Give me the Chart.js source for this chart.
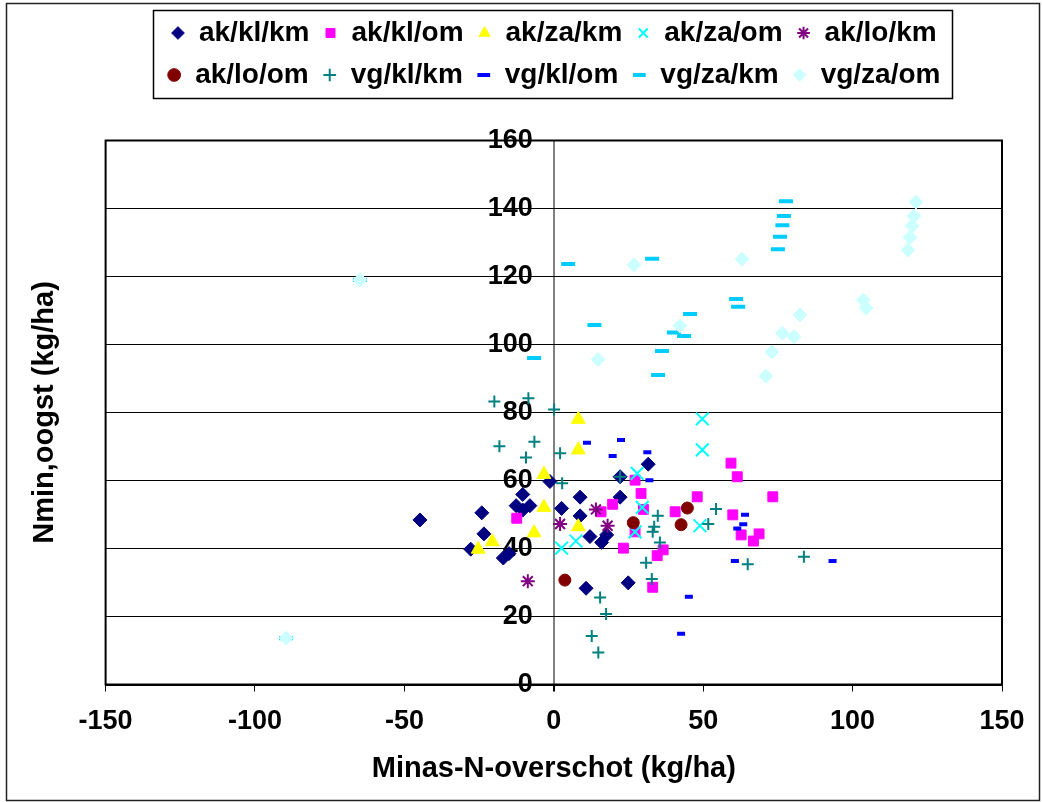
<!DOCTYPE html>
<html>
<head>
<meta charset="utf-8">
<script src="https://cdn.jsdelivr.net/npm/chart.js@4.4.0/dist/chart.umd.min.js"></script>
<style>
  html, body { margin: 0; padding: 0; background: #fff; }
  #wrap { position: relative; width: 1042px; height: 802px; }
</style>
</head>
<body>
<div id="wrap"><canvas id="chart" width="1042" height="802"></canvas></div>
<script>
// series names (legend order)
const seriesNames = ['ak/kl/km', 'ak/kl/om', 'ak/za/km', 'ak/za/om', 'ak/lo/km',
                     'ak/lo/om', 'vg/kl/km', 'vg/kl/om', 'vg/za/km', 'vg/za/om'];

// [Minas-N-overschot, Nmin oogst] per series
const akKlKm = [[-44.8, 48.4], [-27.8, 39.8], [-24.1, 50.5], [-23.4, 44.3], [-16.9, 37.2], [-15, 38.5],
  [-12.6, 52.6], [-10.4, 55.9], [-10.4, 51.3], [-8, 52.6], [-1.3, 59.7], [2.6, 51.8], [8.8, 55.1],
  [8.8, 49.6], [12.1, 43.5], [16, 41.8], [17.7, 44], [22.2, 55.1], [22.2, 61.1], [31.6, 64.8],
  [10.8, 28.3], [24.9, 29.9]];
const akKlOm = [[-12.4, 48.9], [27.2, 60.1], [29.2, 56.2], [19.7, 53], [15.8, 50.8], [30, 51.5],
  [27.2, 44.9], [23.3, 40.1], [48, 55.2], [40.6, 50.8], [59.3, 65.1], [61.4, 61.1], [59.9, 49.9],
  [62.7, 44], [68.7, 44.3], [66.8, 42.2], [73.3, 55.2], [36.6, 39.6], [34.6, 37.9], [33.1, 28.6]];
const akZaKm = [[8.2, 78], [8.2, 69], [-3.3, 61.8], [-3.3, 52.1], [-6.6, 44.6], [-20.6, 42],
  [-25.3, 39.8], [8.2, 46.4]];
const akZaOm = [[49.7, 78.1], [49.7, 69], [27.9, 62.1], [29.6, 52.1], [27.2, 44.9], [48.9, 46.7],
  [7.4, 42.2], [2.6, 40.1]];
const akLoKm = [[14.1, 51.5], [2.1, 47.2], [18, 46.7], [-8.7, 30.4]];
const akLoOm = [[44.7, 51.9], [42.6, 47], [26.6, 47.6], [3.7, 30.7]];
const vgKlKm = [[-19.9, 83.2], [-8.5, 84.2], [0.1, 80.9], [-18.2, 70.1], [-6.5, 71.4], [-9.3, 66.8],
  [2.1, 68], [2.8, 59.2], [22.2, 61.1], [54.3, 51.6], [34.8, 49.6], [33.6, 46.4], [33.1, 44.9],
  [51.7, 47.2], [35.5, 41.8], [30.9, 35.8], [32.8, 31], [15.5, 25.6], [17.5, 20.7], [12.7, 14.3],
  [14.9, 9.4], [64.9, 35.4], [83.7, 37.6]];
const vgKlOm = [[11.1, 71.1], [22.5, 71.9], [19.7, 67.2], [31.3, 68.3], [32, 60.1], [64, 49.9],
  [63.4, 47.1], [61.4, 45.9], [60.6, 36.3], [93.3, 36.3], [45.2, 25.8], [42.6, 14.9]];
const vgZaKm = [[77.7, 142.1], [77, 137.8], [76.5, 135.1], [75.7, 131.7], [75, 128], [4.8, 123.7],
  [32.9, 125.2], [61, 113.4], [61.7, 111.1], [45.6, 109], [13.6, 105.7], [40.2, 103.5], [43.6, 102.5],
  [36.2, 98.1], [34.9, 91], [-6.6, 96], [-64.9, 119], [-89.6, 13.6]];
const vgZaOm = [[26.8, 123.4], [63, 125.1], [42.2, 105.5], [14.8, 95.6], [76.5, 103.3], [80.4, 102.3],
  [82.4, 108.7], [73, 97.8], [71, 90.7], [121.2, 141.9], [120.5, 137.8], [119.9, 134.9], [119.2, 131.5],
  [118.5, 127.8], [103.6, 113.1], [104.5, 110.7], [-64.9, 119], [-89.6, 13.6]];

const xTicks = [-150, -100, -50, 0, 50, 100, 150];
const yTicks = [0, 20, 40, 60, 80, 100, 120, 140, 160];

const seriesData = [akKlKm, akKlOm, akZaKm, akZaOm, akLoKm, akLoOm, vgKlKm, vgKlOm, vgZaKm, vgZaOm];

// marker look per series (Excel default markers)
const markerStyles = [
  { style: 'rectRot',  fill: '#000080', stroke: '#000080', r: 7, w: 1 },
  { style: 'rect',     fill: '#FF00FF', stroke: '#FF00FF', r: 7, w: 1 },
  { style: 'triangle', fill: '#FFFF00', stroke: '#FFFF00', r: 8, w: 1 },
  { style: 'crossRot', fill: '#00FFFF', stroke: '#00FFFF', r: 9, w: 2 },
  { style: 'star',     fill: '#800080', stroke: '#800080', r: 7, w: 2 },
  { style: 'circle',   fill: '#800000', stroke: '#800000', r: 6, w: 1 },
  { style: 'cross',    fill: '#008080', stroke: '#008080', r: 6, w: 2 },
  { style: 'line',     fill: '#0000FF', stroke: '#0000FF', r: 4, w: 4 },
  { style: 'line',     fill: '#00CCFF', stroke: '#00CCFF', r: 7, w: 4 },
  { style: 'rectRot',  fill: '#CCFFFF', stroke: '#CCFFFF', r: 7, w: 1 }
];

const FONT = "'Liberation Sans', Arial, sans-serif";

const datasets = seriesNames.map((name, i) => ({
  label: name,
  data: seriesData[i].map(p => ({ x: p[0], y: p[1] })),
  pointStyle: markerStyles[i].style,
  pointRadius: markerStyles[i].r,
  backgroundColor: markerStyles[i].fill,
  borderColor: markerStyles[i].stroke,
  borderWidth: markerStyles[i].w,
  showLine: false,
  order: -i // later series on top, like Excel
}));

// legend wraps at 5 items per row, plus extra room between legend and plot
const legendSpacer = {
  id: 'legendSpacer',
  beforeInit(chart) {
    const origFit = chart.legend.fit;
    chart.legend.fit = function () {
      const full = this.maxWidth;
      this.maxWidth = Math.min(full, 880);
      origFit.bind(chart.legend)();
      this.maxWidth = full;
      this.width = full;
      this.height += 41.5;
    };
  }
};

// frames: outer border, legend box, plot box
const frames = {
  id: 'frames',
  afterDraw(chart) {
    const ctx = chart.ctx;
    const a = chart.chartArea;
    ctx.save();
    ctx.strokeStyle = '#000';
    ctx.lineWidth = 2;
    ctx.strokeRect(a.left, a.top, a.right - a.left, a.bottom - a.top);

    const boxes = chart.legend.legendHitBoxes;
    if (boxes && boxes.length) {
      const l = Math.min(...boxes.map(b => b.left)) - 14;
      const r = Math.max(...boxes.map(b => b.left + b.width)) + 12;
      const t = Math.min(...boxes.map(b => b.top)) - 9;
      const btm = Math.max(...boxes.map(b => b.top + b.height)) + 9;
      ctx.lineWidth = 1.5;
      ctx.strokeRect(Math.round(l) + 0.5, Math.round(t) + 0.5, Math.round(r - l), Math.round(btm - t));
    }

    ctx.lineWidth = 1.5;
    ctx.strokeStyle = '#222';
    ctx.strokeRect(6.5, 3.5, chart.width - 9, chart.height - 5);
    ctx.restore();
  }
};

new Chart(document.getElementById('chart'), {
  type: 'scatter',
  data: { datasets },
  options: {
    responsive: false,
    animation: false,
    events: [],
    layout: { padding: { left: 10, right: 40, top: 5, bottom: 0 } },
    plugins: {
      tooltip: { enabled: false },
      legend: {
        position: 'top',
        fullSize: false, // centred over the plot area
        labels: {
          usePointStyle: true,
          boxWidth: 14,
          boxHeight: 9,
          padding: 14,
          color: '#000',
          font: { family: FONT, size: 28, weight: 'bold' },
          sort: (a, b) => a.datasetIndex - b.datasetIndex
        }
      }
    },
    scales: {
      x: {
        type: 'linear',
        position: 'bottom',
        min: xTicks[0],
        max: xTicks[xTicks.length - 1],
        afterBuildTicks(scale) { scale.ticks = xTicks.map(v => ({ value: v })); },
        afterFit(scale) { scale.height = 117.5; },
        ticks: {
          color: '#000',
          padding: 14,
          maxRotation: 0,
          font: { family: FONT, size: 27, weight: 'bold' }
        },
        grid: {
          display: true,
          drawOnChartArea: true,
          drawTicks: true,
          tickLength: 7,
          tickColor: '#000',
          // only the vertical axis line at x = 0 is drawn inside the plot
          color: c => (c.tick && c.tick.value === 0 ? '#808080' : 'rgba(0,0,0,0)'),
          lineWidth: c => (c.tick && c.tick.value === 0 ? 2 : 1)
        },
        border: { display: true, color: '#000', width: 2 },
        title: {
          display: true,
          text: 'Minas-N-overschot (kg/ha)',
          color: '#000',
          padding: { top: 0, bottom: 16 },
          font: { family: FONT, size: 29, weight: 'bold' }
        }
      },
      y: {
        type: 'linear',
        position: { x: -7 }, // labels sit just left of the x = 0 axis
        min: yTicks[0],
        max: yTicks[yTicks.length - 1],
        afterBuildTicks(scale) { scale.ticks = yTicks.map(v => ({ value: v })); },
        ticks: {
          color: '#000',
          font: { family: FONT, size: 27, weight: 'bold' }
        },
        grid: { color: '#000', lineWidth: 1, drawTicks: false },
        border: { display: false }
      },
      yTitle: {
        type: 'linear',
        position: 'left',
        afterFit(scale) { scale.width = 95.6; },
        ticks: { display: false },
        grid: { display: false },
        border: { display: false },
        title: {
          display: true,
          text: 'Nmin,oogst (kg/ha)',
          color: '#000',
          padding: { top: 17.6, bottom: 0 },
          font: { family: FONT, size: 29, weight: 'bold' }
        }
      }
    }
  },
  plugins: [legendSpacer, frames]
});
</script>
</body>
</html>
